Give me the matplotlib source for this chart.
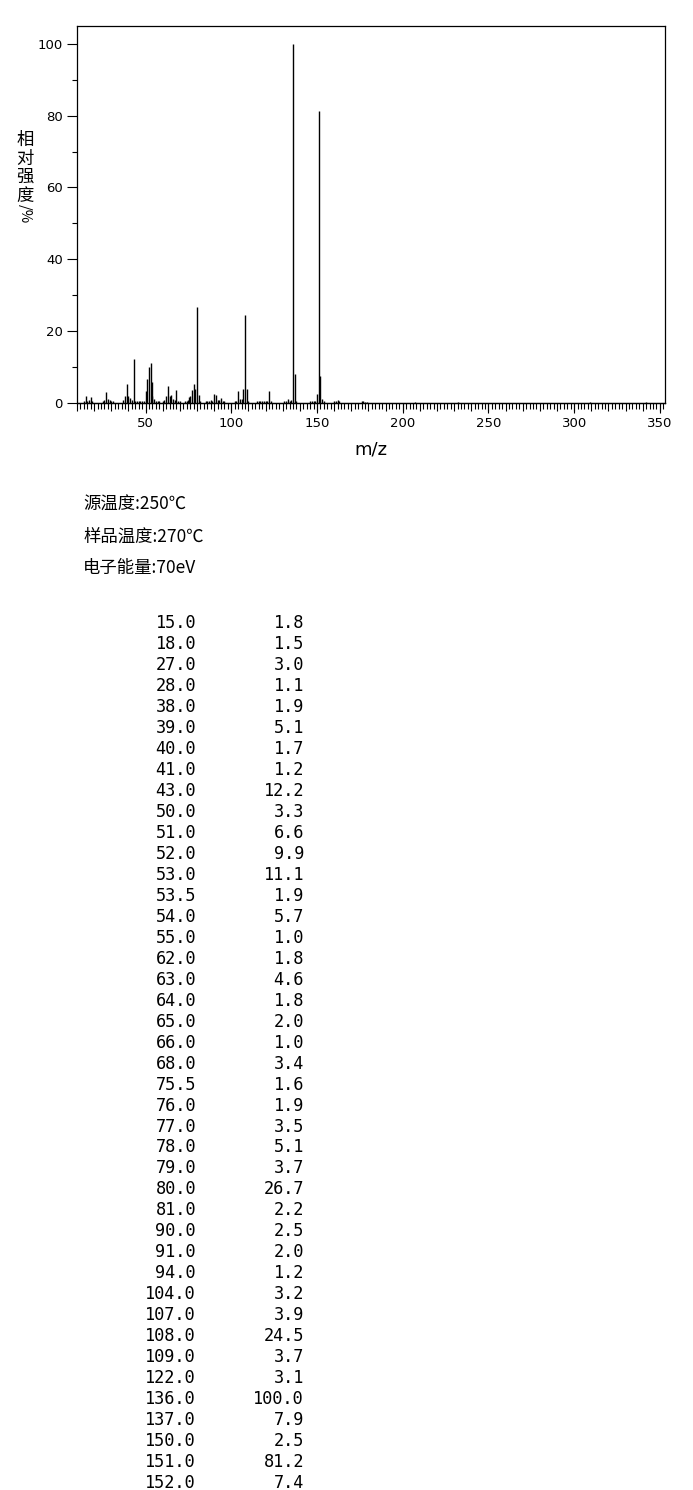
import matplotlib
matplotlib.use('Agg')
import matplotlib.pyplot as plt
from matplotlib.ticker import MultipleLocator, NullFormatter

# peaks listed in the table (m/z, relative intensity %)
peak_mz = [15.0, 18.0, 27.0, 28.0, 38.0, 39.0, 40.0, 41.0, 43.0, 50.0,
           51.0, 52.0, 53.0, 53.5, 54.0, 55.0, 62.0, 63.0, 64.0, 65.0,
           66.0, 68.0, 75.5, 76.0, 77.0, 78.0, 79.0, 80.0, 81.0, 90.0,
           91.0, 94.0, 104.0, 107.0, 108.0, 109.0, 122.0, 136.0, 137.0, 150.0,
           151.0, 152.0]
peak_int = [1.8, 1.5, 3.0, 1.1, 1.9, 5.1, 1.7, 1.2, 12.2, 3.3,
            6.6, 9.9, 11.1, 1.9, 5.7, 1.0, 1.8, 4.6, 1.8, 2.0,
            1.0, 3.4, 1.6, 1.9, 3.5, 5.1, 3.7, 26.7, 2.2, 2.5,
            2.0, 1.2, 3.2, 3.9, 24.5, 3.7, 3.1, 100.0, 7.9, 2.5,
            81.2, 7.4]

minor_mz = [14, 16, 17, 19, 25, 26, 29, 30, 31, 37, 42, 44, 45, 46, 47, 48, 49,
            56, 57, 58, 60, 61, 67, 69, 70, 73, 74, 75, 82, 85, 86, 87, 88, 89,
            92, 93, 95, 96, 102, 103, 105, 106, 110, 115, 116, 117, 118, 119,
            120, 121, 123, 131, 132, 133, 134, 135, 138, 146, 147, 148, 149,
            153, 154, 160, 161, 162, 163, 176, 177, 178, 179, 207, 232, 309, 342]
minor_int = [0.3, 0.4, 0.7, 0.3, 0.3, 0.7, 0.8, 0.5, 0.3, 0.8, 0.6, 0.5, 0.5, 0.4, 0.3, 0.3, 0.5,
             0.4, 0.3, 0.3, 0.4, 0.7, 0.7, 0.4, 0.4, 0.3, 0.5, 0.8, 0.3, 0.3, 0.3, 0.4, 0.7, 0.5,
             0.8, 0.8, 0.5, 0.3, 0.3, 0.3, 0.9, 0.9, 0.3, 0.3, 0.4, 0.3, 0.4, 0.3,
             0.4, 0.3, 0.3, 0.3, 0.4, 0.9, 0.5, 0.8, 0.4, 0.3, 0.3, 0.4, 0.3,
             0.9, 0.4, 0.3, 0.4, 0.6, 0.3, 0.3, 0.3, 0.2, 0.2, 0.2, 0.2, 0.2, 0.2]

info_lines = ['源温度:250℃', '样品温度:270℃', '电子能量:70eV']
ylabel_chars = ['相', '对', '强', '度']

W, H = 693, 1490
cjk = ['Noto Sans CJK SC', 'DejaVu Sans']

fig = plt.figure(figsize=(W / 100, H / 100), dpi=100)
ax = fig.add_axes([77 / W, 1 - 402.5 / H, 588 / W, 376.5 / H])

ax.vlines(peak_mz, 0, peak_int, colors='black', linewidth=1.0)
ax.vlines(minor_mz, 0, minor_int, colors='black', linewidth=1.0)

ax.set_xlim(10, 353)
ax.set_ylim(0, 105)

for sp in ax.spines.values():
    sp.set_linewidth(0.9)

# x axis: minor every 2, medium every 10, labelled every 50
ax.xaxis.set_major_locator(MultipleLocator(10))
ax.xaxis.set_minor_locator(MultipleLocator(2))
ax.xaxis.set_major_formatter(NullFormatter())
ax.tick_params(axis='x', which='major', length=5.4, width=0.8, direction='out')
ax.tick_params(axis='x', which='minor', length=4.0, width=0.8, direction='out')

sec = ax.secondary_xaxis('bottom')
sec.set_xticks([50, 100, 150, 200, 250, 300, 350])
sec.tick_params(length=7.2, width=0.8, labelsize=9.5, pad=3)
sec.spines['bottom'].set_linewidth(0.9)

# y axis
ax.yaxis.set_major_locator(MultipleLocator(20))
ax.yaxis.set_minor_locator(MultipleLocator(10))
ax.tick_params(axis='y', which='major', length=7.2, width=0.8, labelsize=9.5, pad=3)
ax.tick_params(axis='y', which='minor', length=3.6, width=0.8)

fig.text(371 / W, 1 - 450 / H, 'm/z', ha='center', va='center', fontsize=13)

# stacked vertical y label
ys = [140, 158.5, 177, 196]
for ch, yy in zip(ylabel_chars, ys):
    fig.text(25 / W, 1 - yy / H, ch, ha='center', va='center', fontsize=12.5, family=cjk)
fig.text(25 / W, 1 - 214 / H, '/%', ha='center', va='center', fontsize=10.5,
         rotation=270, family=cjk)

# info lines
for i, s in enumerate(info_lines):
    fig.text(83 / W, 1 - (505 + 31.5 * i) / H, s, ha='left', va='center',
             fontsize=12.5, family=cjk)

# peak table
for i, (m, v) in enumerate(zip(peak_mz, peak_int)):
    yy = 1 - (623 + 20.98 * i) / H
    fig.text(196 / W, yy, f'{m:.1f}', ha='right', va='center', fontsize=12.2,
             family='DejaVu Sans Mono')
    fig.text(304 / W, yy, f'{v:.1f}', ha='right', va='center', fontsize=12.2,
             family='DejaVu Sans Mono')

fig.savefig('out.png', dpi=100)
